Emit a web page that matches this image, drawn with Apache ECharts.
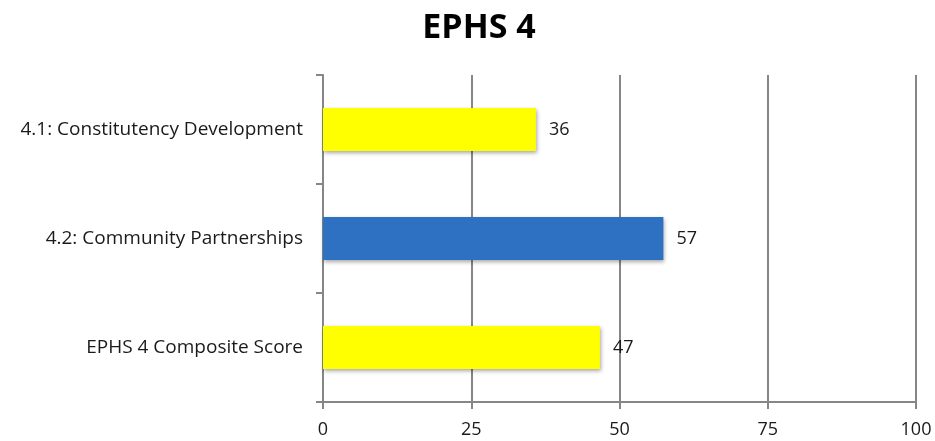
<!DOCTYPE html>
<html>
<head>
<meta charset="utf-8">
<script src="https://cdn.jsdelivr.net/npm/echarts@6/dist/echarts.min.js"></script>
<style>html,body{margin:0;padding:0;background:#fff;}#c{width:935px;height:441px;}</style>
</head>
<body>
<div id="c"></div>
<script>
var categories = ['4.1: Constitutency Development', '4.2: Community Partnerships', 'EPHS 4 Composite Score'];
var values = [35.9, 57.4, 46.7];
var barColors = ['#FFFF00', '#2E70C1', '#FFFF00'];
var xTicks = [0, 25, 50, 75, 100];

var chart = echarts.init(document.getElementById('c'));
var FONT = 'Open Sans';
chart.setOption({
  animation: false,
  title: {
    text: 'EPHS 4', left: 474, top: 6, textAlign: 'center',
    textStyle: { fontFamily: FONT, fontWeight: 'bold', fontSize: 34, color: '#000' }
  },
  grid: { left: 323, right: 19, top: 75, bottom: 39, containLabel: false },
  xAxis: {
    type: 'value', min: xTicks[0], max: xTicks[xTicks.length - 1], interval: 25,
    axisLine: { show: true, lineStyle: { color: '#868686', width: 2 } },
    axisTick: { show: true, length: 7, lineStyle: { color: '#868686', width: 2 } },
    splitLine: { show: true, lineStyle: { color: '#868686', width: 2 } },
    axisLabel: { fontFamily: FONT, fontSize: 18, color: '#1a1a1a', margin: 19 }
  },
  yAxis: {
    type: 'category', data: categories, inverse: true,
    axisLine: { show: true, lineStyle: { color: '#868686', width: 2 } },
    axisTick: { show: true, length: 7, lineStyle: { color: '#868686', width: 2 } },
    axisLabel: { fontFamily: FONT, fontSize: 19, color: '#1a1a1a', margin: 20 }
  },
  series: [{
    type: 'bar',
    data: values.map(function (v, i) { return { value: v, itemStyle: { color: barColors[i] } }; }),
    barWidth: 43,
    itemStyle: { shadowColor: 'rgba(0,0,0,0.35)', shadowBlur: 4, shadowOffsetX: 1, shadowOffsetY: 2 },
    label: {
      show: true, position: 'right', distance: 13, fontFamily: FONT, fontSize: 18, color: '#1a1a1a',
      formatter: function (p) { return Math.round(p.value); }
    }
  }]
});
</script>
</body>
</html>
